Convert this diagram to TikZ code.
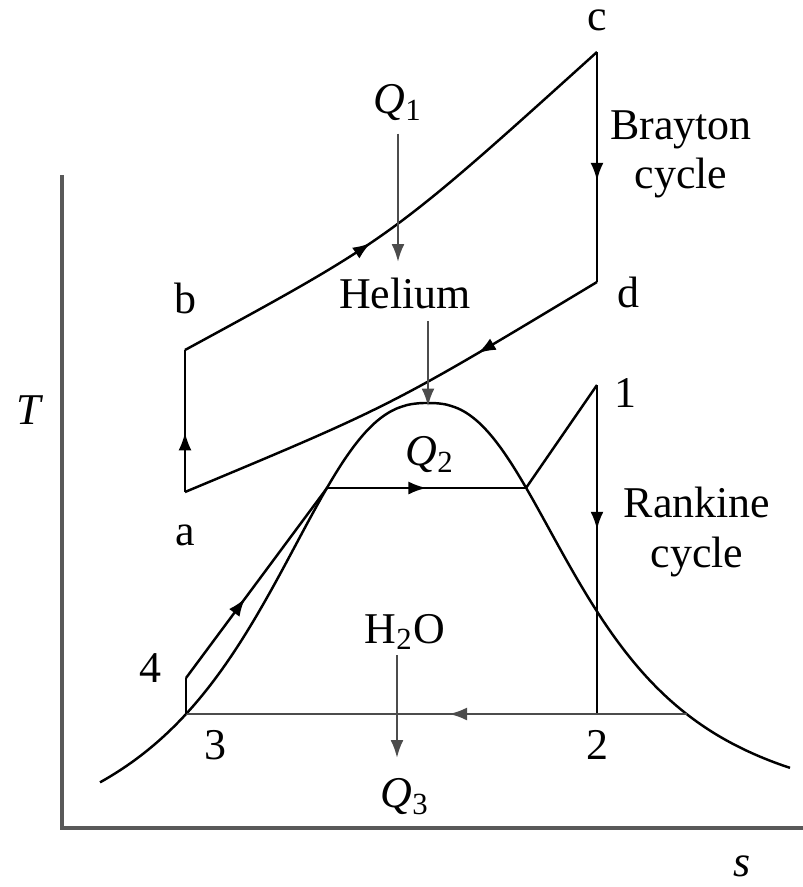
\documentclass[tikz,border=0pt]{standalone}
\usepackage{fontspec}
\setmainfont{Liberation Serif}
\usetikzlibrary{arrows.meta,decorations.markings}

\begin{document}
\begin{tikzpicture}[x=0.1mm,y=-0.1mm,font=\fontsize{12.5}{14}\selectfont,>={Latex[length=1.8mm,width=1.3mm]},
  axis/.style={draw,gray!70!black,line width=1pt},
  cyc/.style={draw,line width=0.7pt},
  heat/.style={->,gray!60!black,line width=0.7pt},
  mid/.style={postaction={decorate},decoration={markings,mark=at position #1 with {\arrow{>}}}}]
  \useasboundingbox (0,0) rectangle (803,887);
  % points of the two cycles
  \coordinate (a) at (185,492);
  \coordinate (b) at (185,350);
  \coordinate (c) at (597,52);
  \coordinate (d) at (597,282);
  \coordinate (p1) at (597,385);
  \coordinate (p2) at (597,714);
  \coordinate (p3) at (186,714);
  \coordinate (p4) at (186,678);
  \coordinate (liq) at (327,488);
  \coordinate (vap) at (526,488);
  \coordinate (wet) at (687,714);
  \coordinate (top) at (428,403);
  % axes
  \draw[axis] (62,175) -- (62,828) -- (803,828);
  \node (T) at (30,410) {\textit{T}};
  \node (s) at (742,866) {\textit{s}};
  % saturation dome
  \draw[cyc] plot[domain=-328:-0.5,samples=80,smooth] ({428+\x},{403+470*pow(abs(\x)/185,2.5)/(1+pow(abs(\x)/185,2.5))})
    -- plot[domain=0.5:362,samples=80,smooth] ({428+\x},{403+420*pow(\x/170,2.5)/(1+pow(\x/170,2.5))});
  % Brayton cycle
  \draw[cyc,mid=0.42] (a) -- (b);
  \draw[cyc,mid=0.42] (b) .. controls (391,238) .. (c);
  \draw[cyc,mid=0.56] (c) -- (d);
  \draw[cyc,mid=0.3] (d) .. controls (391,406) .. (a);
  % Rankine cycle
  \draw[cyc,mid=0.42] (p4) -- (liq);
  \draw[cyc,mid=0.5] (liq) -- (vap);
  \draw[cyc] (vap) -- (p1);
  \draw[cyc,mid=0.44] (p1) -- (p2);
  \draw[cyc,gray!60!black,mid=0.36] (p2) -- (p3);
  \draw[cyc,gray!60!black] (p2) -- (wet);
  \draw[cyc] (p3) -- (p4);
  % state labels
  \node (la) at (185,535) {a};
  \node (lb) at (185,298) {b};
  \node (lc) at (597,20) {c};
  \node (ld) at (628,292) {d};
  \node (l1) at (625,393) {1};
  \node (l2) at (597,745) {2};
  \node (l3) at (215,745) {3};
  \node (l4) at (150,668) {4};
  \node[align=center] (brayton) at (681,154) {Brayton\\cycle};
  \node[align=center] (rankine) at (697,532) {Rankine\\cycle};
  % heat flows
  \node (q1) at (398,103) {\textit{Q}\textsubscript{1}};
  \node (helium) at (405,293) {Helium};
  \node (q2) at (430,455) {\textit{Q}\textsubscript{2}};
  \node (water) at (405,632) {H\textsubscript{2}O};
  \node (q3) at (405,797) {\textit{Q}\textsubscript{3}};
  \coordinate (q1end) at (398,262);
  \draw[heat] (q1.south -| q1end) -- (q1end);
  \draw[heat] (helium.south -| top) -- ([yshift=-1]top);
  \draw[heat] (397,655) -- (397,758);
\end{tikzpicture}
\end{document}
